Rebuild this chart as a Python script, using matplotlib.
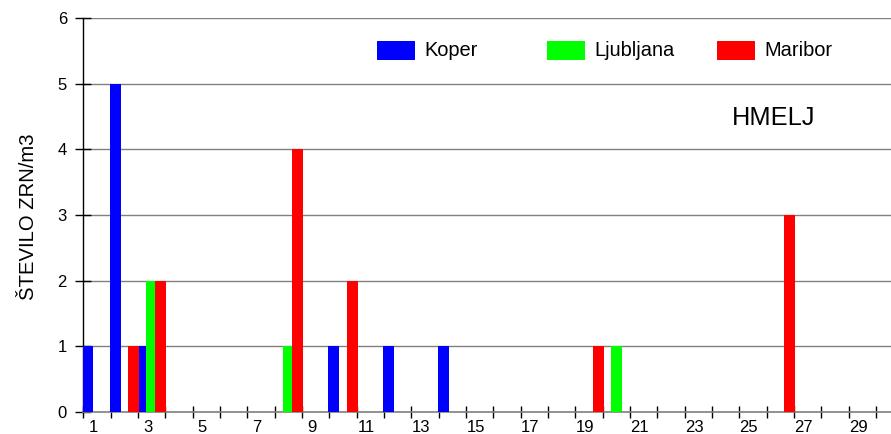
import matplotlib
matplotlib.use("Agg")
import matplotlib.pyplot as plt
import matplotlib.transforms as mtransforms
from matplotlib.patches import Rectangle
import numpy as np

plt.rcParams['font.family'] = ['Liberation Sans', 'DejaVu Sans']

days = list(range(1, 31))
koper = [1, 5, 1, 0, 0, 0, 0, 0, 0, 1, 0, 1, 0, 1, 0, 0, 0, 0, 0, 0,
         0, 0, 0, 0, 0, 0, 0, 0, 0, 0]
ljubljana = [0, 0, 2, 0, 0, 0, 0, 1, 0, 0, 0, 0, 0, 0, 0, 0, 0, 0, 0, 1,
             0, 0, 0, 0, 0, 0, 0, 0, 0, 0]
maribor = [0, 1, 2, 0, 0, 0, 0, 4, 0, 2, 0, 0, 0, 0, 0, 0, 0, 0, 1, 0,
           0, 0, 0, 0, 0, 3, 0, 0, 0, 0]
series_names = ["Koper", "Ljubljana", "Maribor"]
series_colors = ["#0000FF", "#00FF00", "#FF0000"]
ylabel = "ŠTEVILO ZRN/m3"
title_text = "HMELJ"

W, H = 891, 434
fig = plt.figure(figsize=(W / 100, H / 100), dpi=100)
ax = fig.add_axes([83.3 / W, 22 / H, (W - 83.3) / W, (412 - 17.8) / H])

x = np.array(days, dtype=float)
offs = [-0.337, 0.0, 0.337]
width = 0.40
for vals, off, col in zip([koper, ljubljana, maribor], offs, series_colors):
    ax.bar(x + off, vals, width=width, color=col, edgecolor='none', zorder=3)

# y axis
ax.set_yticks(range(0, 7))
ax.yaxis.grid(True, color='#808080', linewidth=1.0, zorder=0)
ax.tick_params(axis='y', direction='inout', length=11.5, width=1.0,
               labelsize=12, pad=6, color='black')

# x axis: ticks at category boundaries, labels at odd centers
ax.set_xticks(np.arange(0.5, 31, 1.0))
ax.set_xticklabels([])
ax.set_xticks([d for d in days if d % 2 == 1], minor=True)
ax.set_xticklabels([str(d) for d in days if d % 2 == 1], minor=True)
ax.tick_params(axis='x', which='major', direction='inout', length=8.6,
               width=1.0, color='black')
ax.tick_params(axis='x', which='minor', length=0, labelsize=12, pad=5.6)
shift = mtransforms.ScaledTranslation(-4 / 100, 0, fig.dpi_scale_trans)
for lbl in ax.get_xticklabels(minor=True):
    lbl.set_transform(lbl.get_transform() + shift)

ax.set_xlim(0.5, 0.5 + (W - 83.3) / 27.33)
ax.set_ylim(0, 6)

for s in ['top', 'right']:
    ax.spines[s].set_visible(False)
ax.spines['left'].set_color('black')
ax.spines['left'].set_linewidth(1.0)
ax.spines['bottom'].set_color('#808080')
ax.spines['bottom'].set_linewidth(1.2)
ax.set_axisbelow(True)

fig.text(28 / W, 1 - 216.5 / H, ylabel, rotation=90, ha='center',
         va='center', fontsize=14.6)

# legend (manual)
box_x = [376.7, 546.7, 716.7]
for bx, name, col in zip(box_x, series_names, series_colors):
    fig.patches.append(Rectangle((bx / W, 1 - 60 / H), 38.3 / W, 19.3 / H,
                                 transform=fig.transFigure, facecolor=col,
                                 edgecolor='none'))
    fig.text((bx + 47.5) / W, 1 - 50.3 / H, name, ha='left', va='center',
             fontsize=14.4)

fig.text(731.7 / W, 1 - 118.3 / H, title_text, ha='left', va='center',
         fontsize=18.3)

fig.savefig("out.png", dpi=100)
